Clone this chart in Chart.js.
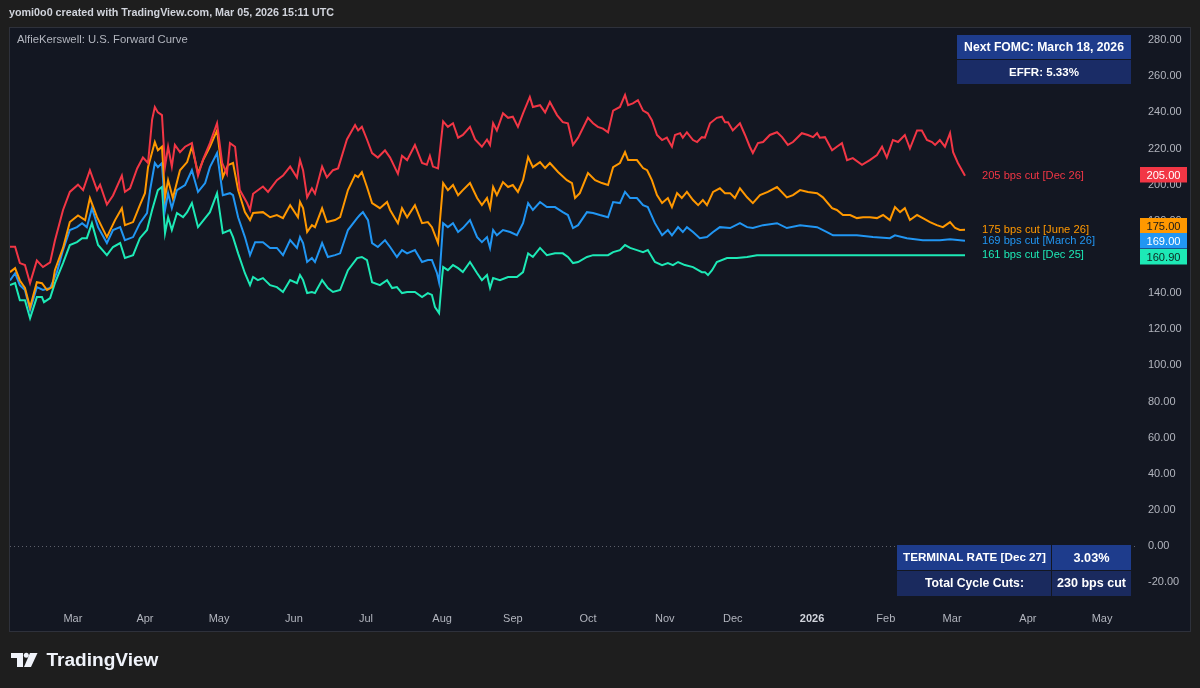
<!DOCTYPE html>
<html><head><meta charset="utf-8">
<script src="https://cdn.jsdelivr.net/npm/chart.js@4.4.1/dist/chart.umd.min.js"></script>
<style>html,body{margin:0;padding:0;background:#1e1e1e;}canvas{display:block}</style>
</head><body>
<canvas id="c" width="1200" height="688"></canvas>
<script>
// ---- DATA (x = trading session index from early Feb 2025, y = bps of cuts priced) ----
const seriesNames = ['205 bps cut [Dec 26]','175 bps cut [June 26]','169 bps cut [March 26]','161 bps cut [Dec 25]'];
const lastValueLabels = ['205.00','175.00','169.00','160.90'];

const redCurve = [[0,165.6],[1.5,165.6],[2.9,156.6],[4.4,155.5],[5.9,145.5],[7.9,158],[9.7,154.4],[11.8,157],[13.2,169],[15.6,186],[17.6,196],[20,200],[21.5,197],[23.5,208],[25.6,197],[26.5,200],[28.5,189],[30.3,194],[32.9,205],[33.8,196],[35.3,198],[37.4,209],[39.1,215],[40.6,212],[41.8,236],[42.6,243],[43.5,240],[44.7,238.5],[45.6,210],[46.5,221],[47.6,210],[48.5,222],[50,218],[51.5,221],[53.5,223],[55.3,205],[56.8,214],[58.8,223],[60.9,234],[62.4,212],[63.8,206],[64.7,223],[66.2,221],[67.6,197],[69.7,190],[70.6,186],[71.5,195],[74.4,199],[75.9,196],[78.5,202.5],[80.3,205],[82.4,210],[84.4,204],[85.3,213.6],[86.2,208],[87.4,193],[88.8,198],[89.7,195],[91.8,210],[93.2,204],[95,208],[96.5,209],[99.1,225],[101.5,233],[102.4,230],[103.5,232],[105,225],[106.5,217.5],[108.2,215],[110.3,219],[111.8,215],[114.1,206],[115.3,216],[116.8,213.6],[119.1,222],[121.2,212],[122.6,211],[123.5,216],[124.4,210],[125.9,209],[127.4,235],[128.8,232],[130.3,234],[131.8,226],[133.2,227.5],[135.3,232],[136.8,225],[138.8,221],[140.3,225],[141.2,222],[142.1,234],[143.2,230],[145,239.5],[146.5,237],[147.9,237.6],[149.4,232],[150.9,239.5],[152.9,248.6],[153.8,243],[155.9,244],[157.4,240],[158.8,245.7],[160.9,238.5],[162.6,234.6],[164.1,234],[165.6,222],[167.1,226],[170,237],[171.5,234],[172.9,232],[174.4,231],[175.9,229],[177.4,241],[179.4,243],[180.9,249.6],[181.8,244],[183.2,245],[184.7,246.8],[186.2,241],[187.6,239.5],[188.8,235.7],[190.3,227.5],[191.8,224.7],[193.2,226],[194.7,221],[195.6,227.5],[197.1,228.5],[197.9,226],[199.1,229],[200.9,224.7],[202.1,223.6],[203.5,226.3],[204.4,226],[205.9,234],[207.9,237],[209.4,237.6],[210.3,234.6],[211.2,234.6],[212.6,230],[214.7,234],[216.2,227.5],[217.6,221],[218.5,217.5],[220,223],[221.5,223.6],[223.5,227.5],[225.6,229],[227.1,226.3],[228.8,222],[230.3,223.6],[232.9,228.5],[234.7,227.5],[236.2,226.3],[237.4,228.5],[238.2,226],[239.7,226.3],[241.8,219],[243.2,221],[244.7,223],[246.2,213.6],[247.9,214.7],[250.6,211],[252.9,213.6],[255,216.4],[256.5,221],[257.9,215],[259.7,224.7],[261.2,223.6],[263.2,227.5],[264.7,220],[266.8,230],[268.2,230],[269.7,224.7],[271.2,223.6],[272.1,222],[273.5,224.7],[275,221],[276.5,228.5],[277.4,218],[278.8,212],[280.9,205]];

const orangeCurve = [[0,151.6],[1.5,153.8],[2.9,147],[4.4,142.8],[5.9,132],[7.9,146],[9.4,145.5],[10.9,141.7],[12.4,143.3],[13.2,152.7],[15.6,165],[17.6,179.3],[20,183],[22.1,180.4],[23.5,192.6],[25.6,182],[28.5,171],[30.9,180.4],[32.9,187],[33.8,177.6],[36.2,179.3],[38.2,188.7],[39.7,195.3],[40.6,209.7],[42.6,223.6],[43.5,219],[44.7,221],[45.6,193],[46.5,202.5],[47.9,192.6],[50,208],[52.1,212.5],[53.5,221],[55.3,206.4],[56.8,213.6],[58.8,221],[60.9,230],[62.6,204.2],[64.1,210.8],[65.6,212],[67.1,197],[69.1,184.8],[70.6,180.4],[71.5,184.3],[74.4,184.8],[76.5,182],[78.5,183.2],[80.3,181.5],[82.4,188.7],[84.7,182],[85.3,190.5],[86.2,187],[87.4,173.8],[88.8,177.6],[89.7,176.5],[91.8,187],[93.2,179.3],[95.6,180.4],[97.1,182],[99.4,197],[101.5,205.3],[102.4,204.2],[103.5,207],[105,198.7],[106.5,189.8],[108.8,187],[110.9,190.4],[111.8,186],[114.1,178.7],[115.3,187],[116.8,182],[119.1,188.7],[121.2,178.7],[122.9,179.3],[124.1,176.5],[125.9,167.7],[127.4,200.9],[128.8,197],[130.3,199.8],[131.8,194.2],[133.2,197],[135.3,200.9],[137.4,192.6],[138.8,188.7],[140.3,192.6],[141.2,187],[142.1,198.7],[143.2,194.2],[145,201.4],[146.5,198.7],[147.9,199.8],[149.4,196],[150.9,202.5],[152.4,215.3],[153.8,209.7],[155.9,212.5],[157.4,209.2],[158.8,212],[161.2,207],[163.8,202.5],[165.3,200.9],[166.2,192.6],[167.6,195.3],[170,206.4],[172.1,202.5],[174.1,200.9],[175.9,199.8],[177.4,209.7],[179.4,212],[180.9,218],[181.8,213.6],[184.4,213.6],[186.2,209.2],[187.4,208],[188.8,202.5],[190.3,194.2],[191.8,189.8],[193.5,192.6],[194.7,187.6],[196.2,195.3],[197.6,192.6],[199.1,196],[200.9,191.5],[202.4,188.7],[203.8,191.5],[205,188.7],[206.8,196],[208.8,198],[210.3,195.3],[211.8,195.3],[213.2,192.6],[214.7,198],[216.8,193],[218.5,189.8],[220.6,194.2],[222.9,196],[225.6,198.7],[228.5,193],[230.3,194.2],[232.4,197],[234.7,196],[237.4,195.3],[239.1,193],[241.8,187],[243.2,186],[245,183.2],[247.1,183.2],[249.1,181.5],[250.9,182],[252.9,182],[255,181.5],[256.8,183.2],[258.8,180.4],[260.3,187.6],[261.8,184.8],[263.2,187],[264.7,180.4],[266.8,183.2],[268.5,181.5],[270.6,179.3],[272.6,177.6],[274.4,176.5],[276.5,179.3],[278,176],[279.4,174.9],[280.9,175]];

const blueCurve = [[0,147],[1.5,151],[2.9,144.4],[4.4,141.7],[5.9,130.6],[7.9,143.3],[9.7,141.7],[11.8,142.8],[13.8,151.6],[15.6,163.8],[17.6,174.9],[19.7,176.5],[21.2,178.7],[22.6,176.5],[24.1,187],[25.9,176.5],[28.5,167.7],[30.3,174.9],[32.4,176.5],[33.8,169.3],[36.2,171],[38.2,178.7],[40.3,184.3],[41.2,197],[42.6,212],[43.5,209.7],[44.7,212],[45.6,186],[46.5,195.3],[47.6,187],[49.1,197],[51.5,199.8],[53.5,208],[55.3,196],[57.4,200.9],[58.8,209.7],[60.9,217.5],[62.6,194.2],[64.7,195.3],[65.6,194.2],[67.1,182],[69.1,171],[70.6,161],[72.1,168.2],[74.4,168.2],[76.5,165],[78.5,165],[80.3,161],[82.4,169.3],[84.4,165],[85.3,171],[86.2,167.7],[87.4,157.2],[88.8,159.4],[89.7,157.2],[91.8,167.7],[93.5,160],[95.6,161],[97.1,162],[99.4,174.9],[102.1,181.5],[102.9,183.2],[103.8,184.8],[105.3,180.4],[106.5,167.7],[108.2,165.5],[110.3,169.3],[111.8,165.5],[113.8,160],[115.3,163.8],[116.8,162],[119.1,163.8],[121.2,157.2],[122.9,158.3],[124.1,158.3],[125.6,151],[126.2,146],[127.4,178.7],[128.8,176.5],[130.3,178.7],[131.8,173.8],[133.2,176],[135.3,180.4],[137.4,171],[138.8,168.2],[140.3,171],[141.2,165],[142.1,174.9],[143.2,172],[145,174.9],[147.1,173.8],[149.1,172],[150.9,178.7],[152.4,189.8],[153.8,186],[155.9,190.4],[157.9,187.6],[160.3,187.6],[162.6,184.8],[164.1,183.2],[165.6,176],[167.1,177.6],[169.7,184.8],[171.5,184.3],[173.5,183.2],[175.9,182],[177.4,190.4],[179.4,189.8],[180.9,196],[182.4,192.6],[184.4,192.6],[186.2,188.7],[187.6,187.6],[189.7,178.7],[191.8,172],[193.5,174.9],[194.7,172],[196.5,176.5],[197.9,173.8],[199.1,176.5],[200.9,173.8],[202.9,170.4],[205,171],[206.8,173.8],[208.8,176.5],[211.8,176],[214.7,178.7],[216.8,176.5],[218.5,176],[221.5,177.6],[225.6,178.7],[228.5,176],[232.4,177.6],[237.4,176.5],[240.3,173.8],[242.1,172],[246.2,172],[249.1,172],[253.8,171],[258.8,170.4],[260.3,172],[263.8,170.4],[268.5,169.3],[273.5,169.3],[276.5,169.8],[280.9,169]];

const greenCurve = [[0,144.4],[1.5,145.5],[2.9,136],[4.4,136],[5.9,126],[7.9,137.8],[9.4,137.8],[10,135],[11.8,137.2],[13.2,145.5],[15.6,156.6],[17.6,166.6],[19.7,168.2],[21.2,170.4],[22.6,170.4],[24.1,178.7],[25.9,166.6],[28.5,161],[30.3,165.5],[32.4,167.7],[33.8,159.4],[36.2,161],[38.2,170.4],[40.3,174.9],[41.8,186],[43.5,197],[44.7,198.7],[45.6,173.2],[46.5,182],[47.6,174.9],[49.1,184.3],[50.9,182],[52.1,184.8],[53.5,189.8],[55.3,176.5],[57.4,181.5],[58.8,184.8],[60.9,195.3],[62.6,173.2],[64.7,174.9],[65.6,171],[67.1,162],[69.1,151],[70.6,144.4],[71.5,148.9],[72.9,147.2],[74.4,148.3],[76.5,144.4],[78.5,143.3],[80.3,140.6],[82.4,147.2],[84.4,145.5],[85.3,150],[86.2,147.2],[87.4,140],[88.8,140.6],[89.7,140],[91.8,147.2],[93.5,142.8],[95,140.6],[97.1,141.7],[99.4,152.7],[102.1,159.4],[103.5,160],[105,158.3],[106.5,146],[108.8,144.4],[110.9,147.2],[112.4,142.8],[113.8,143.3],[115.3,140],[116.8,140.6],[119.1,140.6],[121.2,137.8],[122.9,140],[124.1,139],[125,132.3],[126.2,128.9],[127.1,148.9],[127.4,154.4],[128.8,152.7],[130.3,155.5],[131.8,153.8],[133.2,151.6],[135.3,157.2],[137.4,151],[138.8,147.2],[140.3,150],[141.2,142.8],[142.1,148.3],[144.1,147.2],[146.5,148.9],[149.1,148.9],[150.9,151.6],[152.4,162],[153.8,160],[155.9,165],[157.9,161],[160.3,162],[162.6,162],[164.1,160],[165.6,156.6],[167.1,157.2],[169.7,160],[171.5,161],[174.1,161],[175.9,161],[177.4,162.7],[179.4,163.8],[180.9,166.6],[182.4,165],[184.4,163.8],[186.2,162.7],[187.6,163.8],[189.7,157.2],[191.8,155.5],[193.5,156.6],[195,155.5],[196.5,157.2],[198.5,155.5],[200.9,154.4],[203.5,151.6],[204.4,151.6],[205.3,150],[206.5,152.7],[207.9,157.2],[210.9,159.4],[213.8,159.4],[216.8,160],[219.7,161],[224.4,161],[229.4,161],[238.2,160.9],[255.9,160.9],[280.9,160.9]];

const monthTickSessions = [18.5,39.7,61.5,83.5,104.7,127.1,147.9,170,192.6,212.6,235.9,257.6,277.1,299.4,321.2];
const monthLabels = ['Mar','Apr','May','Jun','Jul','Aug','Sep','Oct','Nov','Dec','2026','Feb','Mar','Apr','May'];
const yTickValues = [-20,0,20,40,60,80,100,120,140,160,180,200,220,240,260,280];

const headerText = 'yomi0o0 created with TradingView.com, Mar 05, 2026 15:11 UTC';
const titleText = 'AlfieKerswell: U.S. Forward Curve';
const topTable = [['Next FOMC: March 18, 2026'],['EFFR: 5.33%']];
const bottomTable = [['TERMINAL RATE [Dec 27]','3.03%'],['Total Cycle Cuts:','230 bps cut']];

// ---- STYLE ----
const FAMILY = "'Liberation Sans', Arial, sans-serif";
const lineColors = ['#f23645','#ff9800','#2196f3','#1de9b6'];
const boxTextColors = ['#ffffff','#1a1a1a','#ffffff','#0f2a22'];
Chart.defaults.font.family = FAMILY;

function fitFont(c, text, w, weight, base) {
  c.font = `${weight} ${base}px ${FAMILY}`;
  const m = c.measureText(text).width;
  let s = base * w / m;
  s = Math.max(base * 0.8, Math.min(base * 1.2, s));
  c.font = `${weight} ${s.toFixed(2)}px ${FAMILY}`;
}

const overlay = {
  id: 'overlay',
  beforeDraw(chart) {
    const c = chart.ctx;
    c.save();
    c.fillStyle = '#1e1e1e'; c.fillRect(0, 0, 1200, 688);
    c.fillStyle = '#131722'; c.fillRect(9, 27, 1182, 605);
    c.strokeStyle = '#2e313b'; c.lineWidth = 1; c.strokeRect(9.5, 27.5, 1181, 604);
    const y0 = Math.round(chart.scales.y.getPixelForValue(0)) + 0.5;
    c.strokeStyle = '#5d606b'; c.setLineDash([1, 3]);
    c.beginPath(); c.moveTo(chart.chartArea.left, y0); c.lineTo(chart.chartArea.right, y0); c.stroke();
    c.restore();
  },
  afterDraw(chart) {
    const c = chart.ctx, ca = chart.chartArea, xs = chart.scales.x, ys = chart.scales.y;
    c.save();
    c.textBaseline = 'middle';
    c.fillStyle = '#d1d4dc'; c.textAlign = 'left';
    fitFont(c, headerText, 325, '600', 12);
    c.fillText(headerText, 9, 13);
    c.fillStyle = '#b2b5be';
    fitFont(c, titleText, 171, 'normal', 11);
    c.fillText(titleText, 17, 40);

    const curves = [redCurve, orangeCurve, blueCurve, greenCurve];
    const labelW = [102, 107, 113, 102];
    const boxes = curves.map((cv, i) => {
      const last = cv[cv.length - 1];
      return { i, x: xs.getPixelForValue(last[0]), y: ys.getPixelForValue(last[1]) };
    });
    boxes.forEach(b => {
      c.fillStyle = lineColors[b.i]; c.textAlign = 'left';
      fitFont(c, seriesNames[b.i], labelW[b.i], 'normal', 11);
      c.fillText(seriesNames[b.i], b.x + 17, b.y);
    });
    const sorted = boxes.map(b => ({ ...b, by: b.y })).sort((a, b) => a.by - b.by);
    const H = 15.5;
    for (let k = 0; k < 40; k++) {
      for (let j = 0; j < sorted.length - 1; j++) {
        const d = sorted[j + 1].by - sorted[j].by;
        if (d < H) { const o = (H - d) / 2; sorted[j].by -= o; sorted[j + 1].by += o; }
      }
    }
    sorted.forEach(b => {
      const x0 = ca.right + 5, w = 47, cy = b.by - 0.8;
      c.fillStyle = lineColors[b.i];
      c.fillRect(x0, Math.round(cy - 7.7), w, 15.5);
      c.fillStyle = boxTextColors[b.i]; c.textAlign = 'center';
      fitFont(c, lastValueLabels[b.i], 34, 'normal', 12);
      c.fillText(lastValueLabels[b.i], x0 + w / 2, Math.round(cy) + 0.5);
    });

    const tx0 = ca.right - 178, tx1 = ca.right - 4, ty = ca.top + 7;
    const topBg = ['#1e3c8c', '#1a2c66'];
    const topW = [160, 70];
    topTable.forEach((row, r) => {
      c.fillStyle = topBg[r];
      c.fillRect(tx0, ty + r * 25, tx1 - tx0, 24);
      c.fillStyle = '#ffffff'; c.textAlign = 'center';
      fitFont(c, row[0], topW[r], 'bold', 12);
      c.fillText(row[0], (tx0 + tx1) / 2, ty + r * 25 + 12.5);
    });

    const bx0 = ca.right - 238, bxm = ca.right - 83, bx1 = ca.right - 4, by0 = ca.bottom - 60;
    const botBg = ['#1e3c8c', '#1a2a5e'];
    const botW = [[143, 36], [99, 69]];
    bottomTable.forEach((row, r) => {
      const y = by0 + r * 26;
      c.fillStyle = botBg[r];
      c.fillRect(bx0, y, bxm - bx0 - 1, 25);
      c.fillRect(bxm, y, bx1 - bxm, 25);
      c.fillStyle = '#ffffff'; c.textAlign = 'center';
      fitFont(c, row[0], botW[r][0], 'bold', 12);
      c.fillText(row[0], (bx0 + bxm) / 2, y + 13);
      fitFont(c, row[1], botW[r][1], 'bold', 12);
      c.fillText(row[1], (bxm + bx1) / 2, y + 13);
    });

    // TradingView logo
    c.fillStyle = '#f0f3fa';
    c.fillRect(11, 653, 12, 5);
    c.fillRect(17, 653, 6, 14);
    c.beginPath(); c.arc(26.3, 655.3, 2.5, 0, Math.PI * 2); c.fill();
    c.beginPath(); c.moveTo(30, 653); c.lineTo(37.5, 653); c.lineTo(31, 667); c.lineTo(24, 667); c.closePath(); c.fill();
    c.textAlign = 'left'; c.textBaseline = 'alphabetic';
    fitFont(c, 'TradingView', 112, '600', 19);
    c.fillText('TradingView', 46.5, 666);
    c.restore();
  }
};

const datasets = [redCurve, orangeCurve, blueCurve, greenCurve].map((cv, i) => ({
  label: seriesNames[i],
  data: cv.map(([x, y]) => ({ x, y })),
  borderColor: lineColors[i],
  borderWidth: 2,
  pointRadius: 0,
  tension: 0,
  fill: false
}));

new Chart(document.getElementById('c'), {
  type: 'line',
  data: { datasets },
  options: {
    responsive: false,
    animation: false,
    layout: { padding: { left: 10, top: 28, right: 10, bottom: 56 } },
    plugins: { legend: { display: false }, tooltip: { enabled: false } },
    scales: {
      x: {
        type: 'linear', min: 0, max: 330.9,
        grid: { display: false, drawTicks: false }, border: { display: false },
        afterBuildTicks: s => { s.ticks = monthTickSessions.map(v => ({ value: v })); },
        afterFit: s => { s.height = 27; },
        ticks: {
          autoSkip: false, maxRotation: 0, padding: 7,
          callback: (v, i) => monthLabels[i],
          color: c => monthLabels[c.index] === '2026' ? '#d1d4dc' : '#b2b5be',
          font: c => ({ family: FAMILY, size: 11, weight: monthLabels[c.index] === '2026' ? 'bold' : 'normal' })
        }
      },
      y: {
        type: 'linear', position: 'right', min: -32.6, max: 286.7,
        grid: { display: false, drawTicks: false }, border: { display: false },
        afterBuildTicks: s => { s.ticks = yTickValues.map(v => ({ value: v })); },
        afterFit: s => { s.width = 55; },
        ticks: {
          padding: 13, color: '#b2b5be', font: { family: FAMILY, size: 11 },
          callback: v => v.toFixed(2)
        }
      }
    }
  },
  plugins: [overlay]
});
</script>
</body></html>
